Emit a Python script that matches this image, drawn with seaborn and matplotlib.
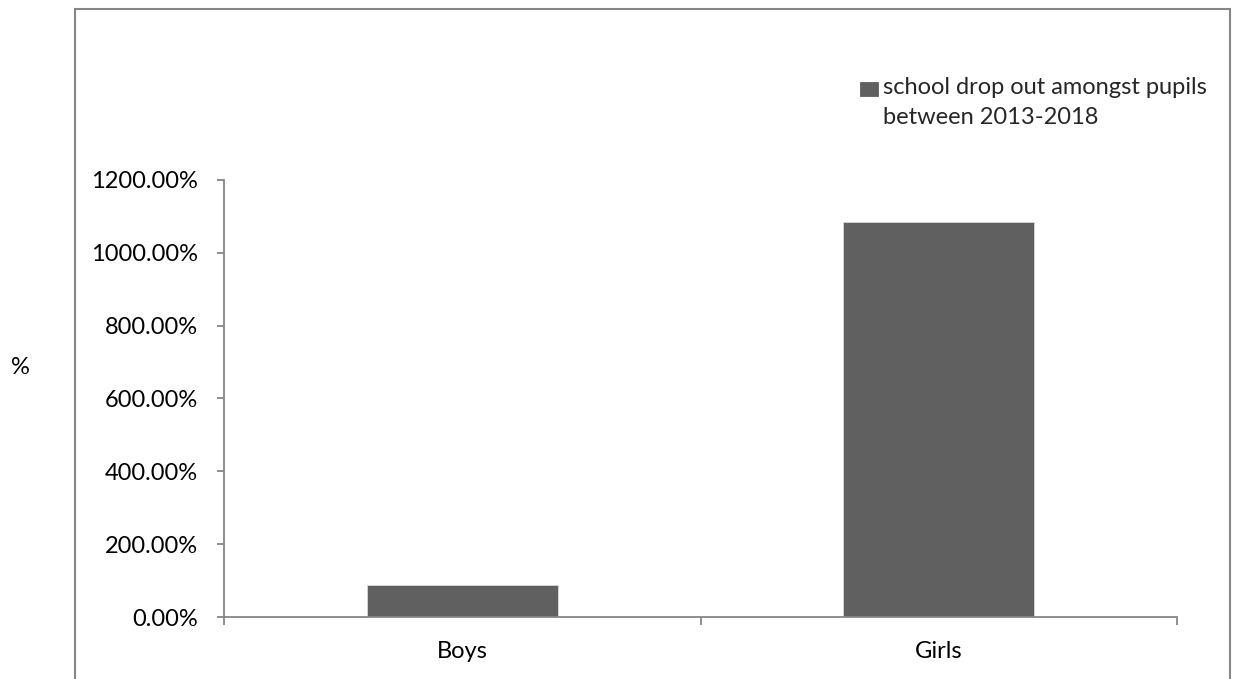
import matplotlib
matplotlib.use("Agg")
import matplotlib.pyplot as plt
import seaborn as sns
import pandas as pd
from matplotlib.ticker import FuncFormatter, FixedLocator
from matplotlib.patches import Rectangle

categories = ["Boys", "Girls"]
values = [89.0, 1084.0]
series_name = "school drop out amongst pupils\nbetween 2013-2018"
y_ticks = [0, 200, 400, 600, 800, 1000, 1200]

sns.set_theme(style="white")
plt.rcParams["font.family"] = ["Lato", "DejaVu Sans"]

W, H = 1233, 679
fig = plt.figure(figsize=(W / 100, H / 100), dpi=100)
ax = fig.add_axes([224 / W, 1 - 617 / H, (1177 - 224) / W, (617 - 180) / H])

df = pd.DataFrame({"category": categories, "value": values, "series": [series_name] * len(categories)})
sns.barplot(data=df, x="category", y="value", hue="series", palette=["#606060"],
            width=0.4, ax=ax, legend=True, edgecolor="#d9d9d9", linewidth=0.6, saturation=1)

grey = "#868686"
ax.set_ylim(0, 1200)
ax.set_xlim(-0.5, 1.5)
ax.yaxis.set_major_locator(FixedLocator(y_ticks))
ax.yaxis.set_major_formatter(FuncFormatter(lambda v, p: f"{v:.2f}%"))
for s in ["top", "right"]:
    ax.spines[s].set_visible(False)
for s in ["left", "bottom"]:
    ax.spines[s].set_color(grey)
    ax.spines[s].set_linewidth(1.3)

fs = 17
ax.tick_params(axis="y", which="major", direction="out", length=5, width=1.3, color=grey,
               pad=14, labelsize=fs, left=True, labelcolor="black")
ax.set_xticks([-0.5, 0.5, 1.5], minor=True)
ax.tick_params(axis="x", which="minor", direction="out", length=6, width=1.3, color=grey, bottom=True)
ax.tick_params(axis="x", which="major", length=0, pad=17, labelsize=fs, labelcolor="black")
ax.set_xlabel("")
ax.set_ylabel("%", rotation=0, fontsize=fs, color="black", va="center", ha="center")
ax.yaxis.set_label_coords(20 / W, 1 - 367 / H, transform=fig.transFigure)

leg = ax.legend(loc="upper left", bbox_to_anchor=(860 / W, 1 - 77 / H), bbox_transform=fig.transFigure,
                frameon=False, fontsize=fs, handlelength=0.75, handleheight=0.5,
                handletextpad=0.22, borderpad=0, borderaxespad=0, labelspacing=0)
for t in leg.get_texts():
    t.set_linespacing(1.5)
for h in leg.legend_handles:
    h.set_y(h.get_y() + 9.7)
    h.set_edgecolor("#606060")

# chart area border
fig.patches.append(Rectangle((75 / W, -0.05), (1230 - 75) / W, 1.05 - 9 / H,
                             transform=fig.transFigure, fill=False, edgecolor=grey, linewidth=1.5))

fig.savefig("out.png", dpi=100, facecolor="white")
